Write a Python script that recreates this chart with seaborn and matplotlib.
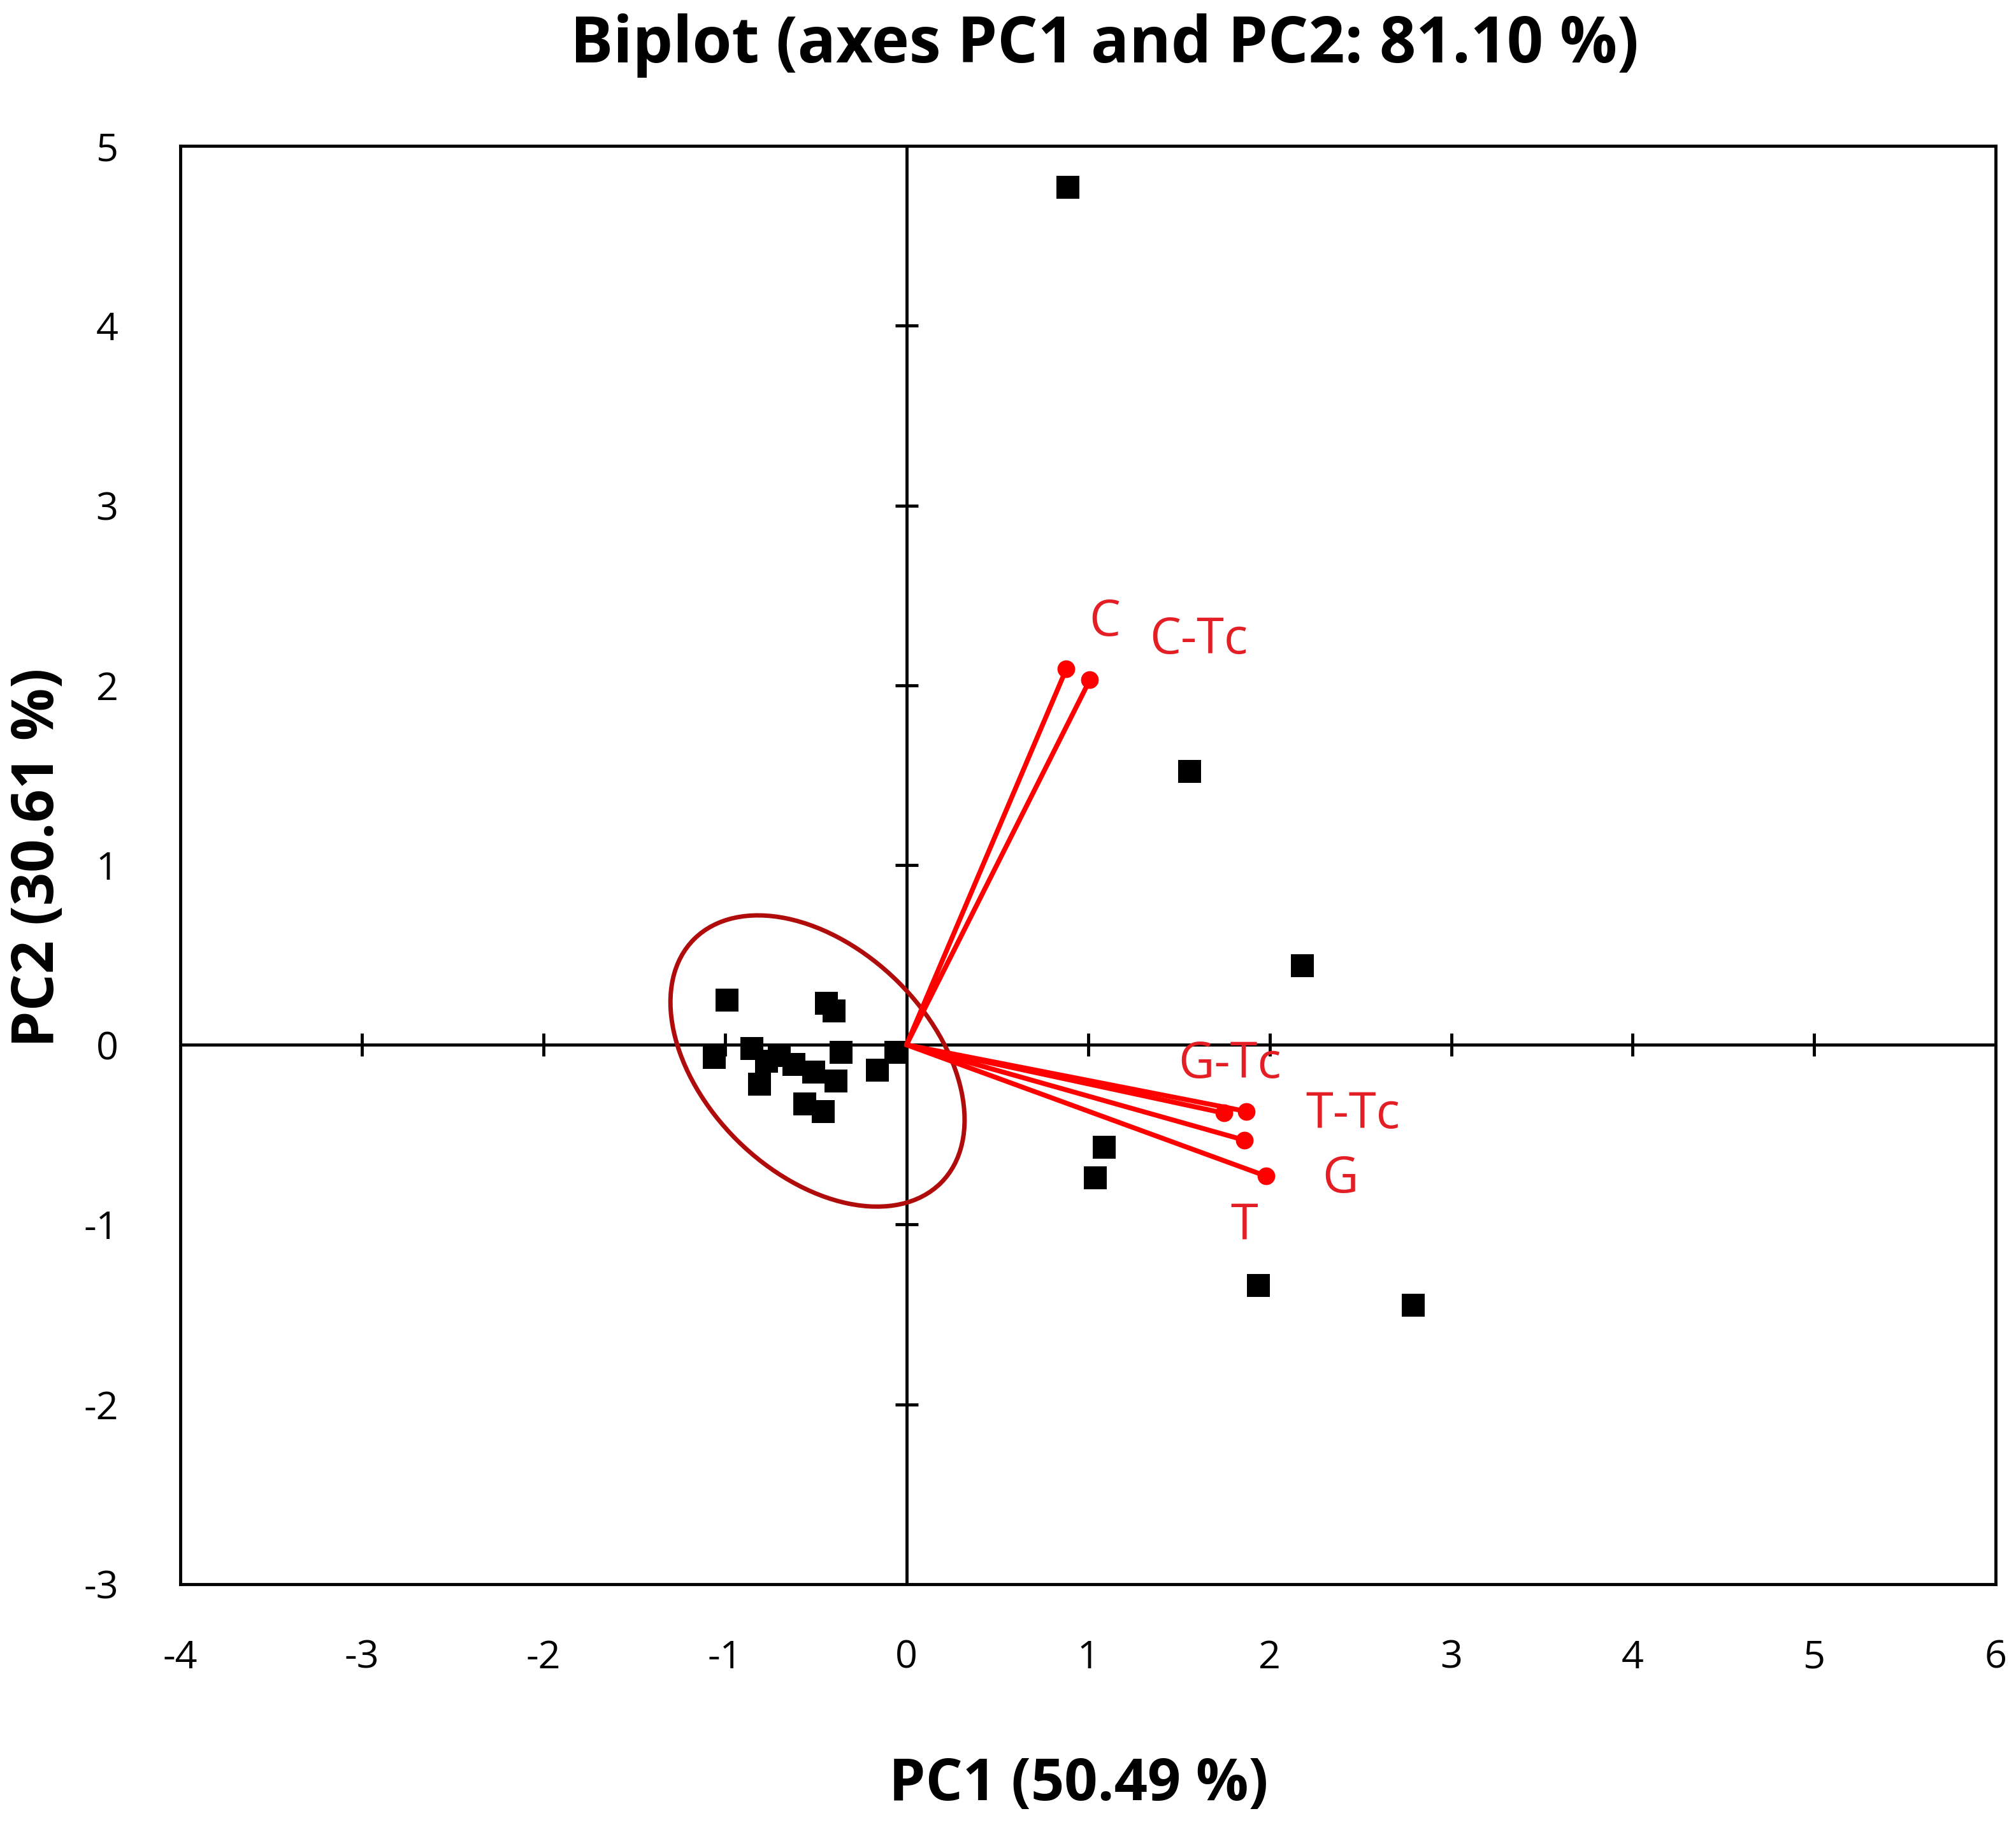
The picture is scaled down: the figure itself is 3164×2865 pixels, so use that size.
import numpy as np
import pandas as pd
import matplotlib
matplotlib.use("Agg")
import matplotlib.pyplot as plt
from matplotlib.patches import Ellipse
import seaborn as sns

# observations (PC1, PC2)
obs_pc1 = [0.89, 1.56, 2.18, 1.09, 1.04, 1.94, 2.79,
           -0.99, -0.44, -0.40, -1.06, -0.85, -0.77, -0.81, -0.70,
           -0.62, -0.56, -0.51, -0.46, -0.39, -0.36, -0.16, -0.06]
obs_pc2 = [4.77, 1.52, 0.44, -0.57, -0.74, -1.34, -1.45,
           0.25, 0.23, 0.19, -0.07, -0.02, -0.09, -0.22, -0.06,
           -0.11, -0.33, -0.15, -0.37, -0.20, -0.04, -0.14, -0.04]

# variable loadings
var_names = ["C", "C-Tc", "G-Tc", "T-Tc", "T", "G"]
var_pc1 = [0.88, 1.01, 1.75, 1.87, 1.86, 1.98]
var_pc2 = [2.09, 2.03, -0.38, -0.37, -0.53, -0.73]

# confidence ellipse of the cluster
ell_center = (-0.49, -0.09)
ell_width = 1.92
ell_height = 1.25
ell_angle = -45

pc1_pct = 50.49
pc2_pct = 30.61

# label offsets from arrow tips (layout only)
label_offset = {"C": (0.21, 0.26), "C-Tc": (0.60, 0.22), "G-Tc": (0.03, 0.27),
                "T-Tc": (0.59, -0.02), "T": (0.0, -0.48), "G": (0.41, -0.02)}

sns.set_style("white")
plt.rcParams["font.family"] = ["Open Sans", "DejaVu Sans"]
plt.rcParams["axes.unicode_minus"] = False
plt.rcParams["text.color"] = "black"
plt.rcParams["xtick.color"] = "black"
plt.rcParams["ytick.color"] = "black"

fig, ax = plt.subplots(figsize=(31.64, 28.65), dpi=100)
fig.subplots_adjust(left=0.0894, right=0.990, top=0.920, bottom=0.132)

ax.set_xlim(-4, 6)
ax.set_ylim(-3, 5)
xt = np.arange(-4, 7)
yt = np.arange(-3, 6)
ax.set_xticks(xt)
ax.set_yticks(yt)
ax.tick_params(length=0, labelsize=44, pad=0)
ax.tick_params(axis="x", pad=62)
ax.tick_params(axis="y", pad=70)
for s in ax.spines.values():
    s.set_visible(True)
    s.set_color("black")
    s.set_linewidth(3.5)

# centre axes with crossing ticks
ax.axhline(0, color="black", lw=3.5, zorder=1)
ax.axvline(0, color="black", lw=3.5, zorder=1)
inner_x = [v for v in xt[1:-1] if v != 0]
inner_y = [v for v in yt[1:-1] if v != 0]
ax.plot(inner_x, [0] * len(inner_x), ls="none", marker="|", ms=26, mew=3.5, color="black", zorder=1)
ax.plot([0] * len(inner_y), inner_y, ls="none", marker="_", ms=26, mew=3.5, color="black", zorder=1)

# ellipse
ax.add_patch(Ellipse(ell_center, ell_width, ell_height, angle=ell_angle,
                     fill=False, edgecolor="#b00c0c", lw=5, zorder=2))

obs = pd.DataFrame({"PC1": obs_pc1, "PC2": obs_pc2})
sns.scatterplot(data=obs, x="PC1", y="PC2", marker="s", s=650, color="black",
                edgecolor="black", linewidth=0, ax=ax, zorder=3)

vars_df = pd.DataFrame({"name": var_names, "PC1": var_pc1, "PC2": var_pc2})
for _, r in vars_df.iterrows():
    ax.plot([0, r.PC1], [0, r.PC2], color="#ff0000", lw=5.5, zorder=4, solid_capstyle="round")
    dx, dy = label_offset[r["name"]]
    ax.text(r.PC1 + dx, r.PC2 + dy, r["name"], color="#e31e24", fontsize=56,
            ha="center", va="center", zorder=5)
sns.scatterplot(data=vars_df, x="PC1", y="PC2", s=400, color="#ff0000",
                linewidth=0, ax=ax, zorder=5)

ax.set_xlabel("")
ax.set_ylabel("")
fig.text(0.548, 0.975, "Biplot (axes PC1 and PC2: 81.10 %)", fontsize=72,
         fontweight="bold", ha="center", va="center")
fig.text(0.535, 0.022, f"PC1 ({pc1_pct:.2f} %)", fontsize=66,
         fontweight="bold", ha="center", va="center")
fig.text(0.019, 0.530, f"PC2 ({pc2_pct:.2f} %)", fontsize=66,
         fontweight="bold", ha="center", va="center", rotation=90)

fig.savefig("out.png", dpi=100, facecolor="white")
